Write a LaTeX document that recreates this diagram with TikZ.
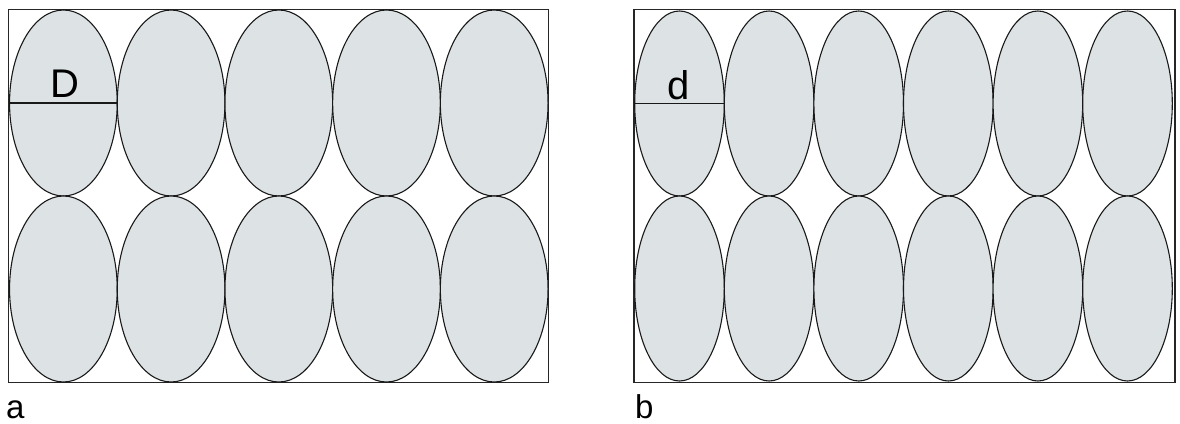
\documentclass[tikz,border=0pt]{standalone}
\usepackage{fontspec}
\setmainfont{Liberation Sans}
\usetikzlibrary{shapes.geometric}
\definecolor{cellfill}{RGB}{221,227,229}
\tikzset{
  frame/.style={draw=black!85, line width=1.1pt},
  cellA/.style={ellipse, draw=black!90, fill=cellfill, line width=1.1pt, inner sep=0pt, minimum width=107.7pt, minimum height=186pt},
  cellB/.style={ellipse, draw=black!90, fill=cellfill, line width=1.1pt, inner sep=0pt, minimum width=89.6pt, minimum height=185pt},
  dline/.style={draw=black!90, line width=1.1pt},
  lbl/.style={inner sep=0pt, anchor=base, font=\fontsize{40}{40}\selectfont},
  panel/.style={inner sep=0pt, anchor=base west, font=\fontsize{33}{33}\selectfont}
}
\begin{document}
\begin{tikzpicture}[x=1pt,y=-1pt]
\useasboundingbox (0,0) rectangle (1180,423);
% frames
\draw[frame] (8.5,9.5) rectangle (548.5,382.5);
\draw[frame] (634,9.5) rectangle (1175,382.5);
% panel a cells
\foreach \i in {0,...,4}{
  \node[cellA] (a1\i) at ({63.4+107.7*\i},103) {};
  \node[cellA] (a2\i) at ({63.4+107.7*\i},289) {};
}
% panel b cells
\foreach \i in {0,...,5}{
  \node[cellB] (b1\i) at ({679.5+89.6*\i},103.5) {};
  \node[cellB] (b2\i) at ({679.5+89.6*\i},288.5) {};
}
% diameters
\draw[dline] (a10.west) -- (a10.east);
\draw[dline] (b10.west) -- (b10.east);
\node[lbl] (D) at (64.5,97.5) {D};
\node[lbl] (d) at (679,99) {d};
% panel labels
\node[panel] (la) at (6,418) {a};
\node[panel] (lb) at (635,418) {b};
\end{tikzpicture}
\end{document}
